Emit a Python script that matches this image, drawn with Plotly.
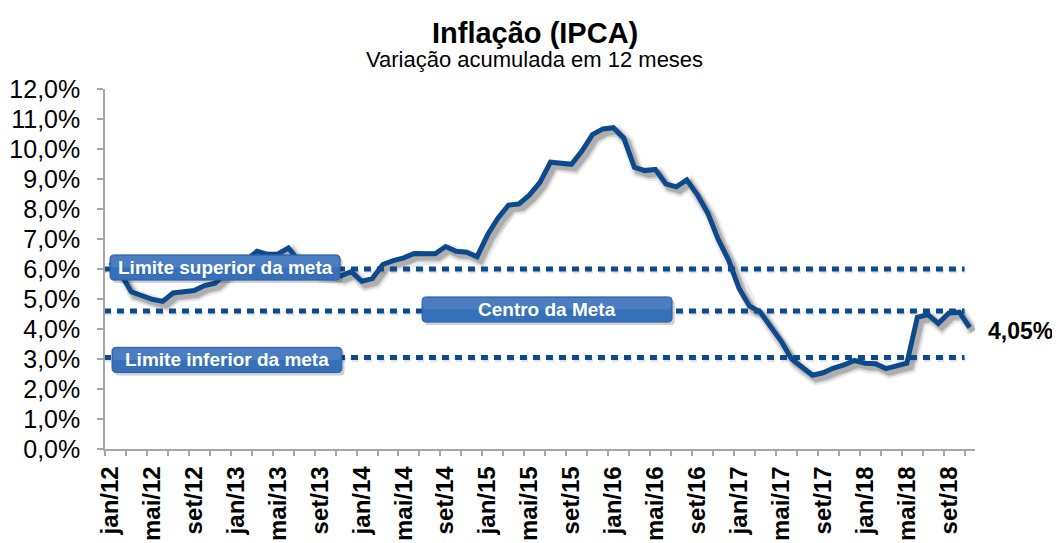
import plotly.graph_objects as go

# ---------------- data ----------------
month_abbr = ["jan", "fev", "mar", "abr", "mai", "jun", "jul", "ago", "set", "out", "nov", "dez"]
years = ["12", "13", "14", "15", "16", "17", "18"]

ipca_2012 = [6.22, 5.85, 5.24, 5.10, 4.99, 4.92, 5.20, 5.24, 5.28, 5.45, 5.53, 5.84]
ipca_2013 = [6.15, 6.31, 6.59, 6.49, 6.50, 6.70, 6.27, 6.09, 5.86, 5.84, 5.77, 5.91]
ipca_2014 = [5.59, 5.68, 6.15, 6.28, 6.37, 6.52, 6.50, 6.51, 6.75, 6.59, 6.56, 6.41]
ipca_2015 = [7.14, 7.70, 8.13, 8.17, 8.47, 8.89, 9.56, 9.53, 9.49, 9.93, 10.48, 10.67]
ipca_2016 = [10.71, 10.36, 9.39, 9.28, 9.32, 8.84, 8.74, 8.97, 8.48, 7.87, 6.99, 6.29]
ipca_2017 = [5.35, 4.76, 4.57, 4.08, 3.60, 3.00, 2.71, 2.46, 2.54, 2.70, 2.80, 2.95]
ipca_2018 = [2.86, 2.84, 2.68, 2.76, 2.86, 4.39, 4.48, 4.19, 4.53, 4.56, 4.05]

meta_superior = 6.0
meta_centro = 4.6
meta_inferior = 3.05

y_tickvals = list(range(0, 13))
y_ticktext = [f"{v},0%" for v in y_tickvals]

# ---------------- build ----------------
ipca = ipca_2012 + ipca_2013 + ipca_2014 + ipca_2015 + ipca_2016 + ipca_2017 + ipca_2018
categories = [f"{m}/{y}" for y in years for m in month_abbr][: len(ipca)]
idx = list(range(len(ipca)))
n = len(ipca)

BLUE = "#0c4a8c"
FONT = "Liberation Sans, Arial, sans-serif"

fig = go.Figure()

# shadow of main line (Excel-style soft shadow)
for w, a in [(13, 0.07), (9, 0.12), (6, 0.16)]:
    fig.add_trace(go.Scatter(x=[i + 0.35 for i in idx], y=[v - 0.13 for v in ipca], mode="lines",
                             line=dict(color=f"rgba(0,0,0,{a})", width=w), hoverinfo="skip", showlegend=False))

# target lines
for val in [meta_superior, meta_centro, meta_inferior]:
    fig.add_trace(go.Scatter(x=[-0.5, n - 1.4], y=[val - 0.07, val - 0.07], mode="lines",
                             line=dict(color="rgba(0,0,0,0.10)", width=5, dash="7px,6px"),
                             hoverinfo="skip", showlegend=False))
    fig.add_trace(go.Scatter(x=[-0.6, n - 1.5], y=[val, val], mode="lines",
                             line=dict(color=BLUE, width=5, dash="7px,6px"),
                             hoverinfo="skip", showlegend=False))

# main line
fig.add_trace(go.Scatter(x=idx, y=ipca, mode="lines", line=dict(color=BLUE, width=5),
                         showlegend=False))


def rrect(x0, x1, y0, y1, rx, ry):
    return (f"M {x0+rx},{y0} L {x1-rx},{y0} Q {x1},{y0} {x1},{y0+ry} "
            f"L {x1},{y1-ry} Q {x1},{y1} {x1-rx},{y1} L {x0+rx},{y1} "
            f"Q {x0},{y1} {x0},{y1-ry} L {x0},{y0+ry} Q {x0},{y0} {x0+rx},{y0} Z")


boxes = [
    ("Limite superior da meta", -0.02, 21.93, 6.05),
    ("Limite inferior da meta", 0.17, 22.1, 2.97),
    ("Centro da Meta", 29.75, 53.6, 4.65),
]
shapes = []
annotations = []
h = 0.42
for text, x0, x1, yc in boxes:
    # shadow
    shapes.append(dict(type="path", xref="x", yref="y", layer="above",
                       path=rrect(x0 + 0.25, x1 + 0.25, yc - h - 0.1, yc + h - 0.1, 0.4, 0.13),
                       fillcolor="rgba(0,0,0,0.18)", line=dict(width=0)))
    shapes.append(dict(type="path", xref="x", yref="y", layer="above",
                       path=rrect(x0, x1, yc - h, yc + h, 0.4, 0.13),
                       fillcolor="#3670b9", line=dict(color="#2d5fa3", width=1)))
    shapes.append(dict(type="path", xref="x", yref="y", layer="above",
                       path=rrect(x0 + 0.1, x1 - 0.1, yc, yc + h - 0.03, 0.35, 0.1),
                       fillcolor="rgba(255,255,255,0.10)", line=dict(width=0)))
    annotations.append(dict(x=(x0 + x1) / 2, y=yc, xref="x", yref="y", text=f"<b>{text}</b>",
                            showarrow=False, font=dict(family=FONT, size=19, color="white"),
                            xanchor="center", yanchor="middle"))

# end value label
annotations.append(dict(x=idx[-1], y=ipca[-1], xref="x", yref="y",
                        text="<b>" + f"{ipca[-1]:.2f}".replace(".", ",") + "%</b>",
                        showarrow=False, xanchor="left", yanchor="middle", xshift=16, yshift=-3,
                        font=dict(family=FONT, size=23, color="black")))

# titles
annotations.append(dict(x=0.494, y=1.155, xref="paper", yref="paper", text="<b>Inflação (IPCA)</b>",
                        showarrow=False, xanchor="center", yanchor="middle",
                        font=dict(family=FONT, size=29, color="black")))
annotations.append(dict(x=0.494, y=1.082, xref="paper", yref="paper", text="Variação acumulada em 12 meses",
                        showarrow=False, xanchor="center", yanchor="middle",
                        font=dict(family=FONT, size=22, color="black")))

fig.update_layout(
    width=1052, height=535,
    margin=dict(l=97, r=85, t=81, b=94, autoexpand=False),
    paper_bgcolor="white", plot_bgcolor="white",
    shapes=shapes, annotations=annotations,
    showlegend=False,
)

fig.update_xaxes(
    automargin=False,
    range=[-0.5, n - 0.5],
    tickmode="array",
    tickvals=idx[::4],
    ticktext=[f"<b>{c}</b>" for c in categories[::4]],
    tickangle=-90,
    ticks="outside", ticklen=6, tickcolor="rgba(0,0,0,0)",
    tickfont=dict(family=FONT, size=24, color="black"),
    showline=True, linecolor="#a6a6a6", linewidth=1.5,
    showgrid=False, zeroline=False,
    minor=dict(ticks="outside", tick0=-0.5, dtick=2, ticklen=5, tickcolor="#a6a6a6", tickwidth=1.5,
               showgrid=False),
)
fig.update_yaxes(
    automargin=False,
    range=[0, 12],
    tickmode="array", tickvals=y_tickvals, ticktext=y_ticktext,
    ticks="outside", ticklen=6, tickcolor="#a6a6a6", tickwidth=1.5,
    ticklabelstandoff=12,
    tickfont=dict(family=FONT, size=25, color="black"),
    showline=True, linecolor="#a6a6a6", linewidth=1.5,
    showgrid=False, zeroline=False,
)

fig.write_html("out.html")
